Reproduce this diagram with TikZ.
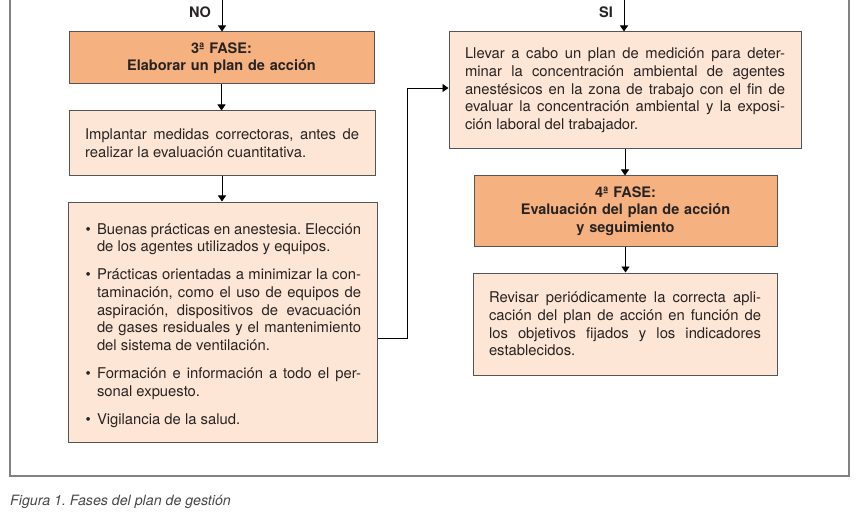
\documentclass[tikz,border=0pt]{standalone}
\usepackage{fontspec}
\setmainfont{TeX Gyre Heros}
\usetikzlibrary{arrows.meta}
\definecolor{phasefill}{RGB}{246,177,128}
\definecolor{peachfill}{RGB}{253,230,213}
\definecolor{edgecol}{RGB}{85,85,85}
\definecolor{framecol}{RGB}{130,130,130}
\definecolor{inkcol}{RGB}{40,35,35}
\newcommand\jsetup{\frenchspacing\tolerance=10000\hbadness=10000\hyphenpenalty=10000\relax}
\newcommand\bitem{\par\noindent\hangindent=13pt\hangafter=1\makebox[13pt][l]{\hspace{1.5pt}\textbullet}}
\begin{document}
\begin{tikzpicture}[x=1pt,y=-1pt,
  base/.style={draw=edgecol,line width=1pt,inner xsep=16pt,inner ysep=0pt,text=inkcol},
  phasebox/.style={base,fill=phasefill,align=center,font=\bfseries\fontsize{14.5}{17.4}\selectfont},
  textbox/.style={base,fill=peachfill,align=justify,font=\fontsize{14.8}{17.7}\selectfont},
  arr/.style={line width=0.9pt,-{Triangle[width=8pt,length=6pt]}},
  lbl/.style={font=\bfseries\fontsize{14.5}{17}\selectfont,inner sep=0pt,text=inkcol}]
\useasboundingbox (0,0) rectangle (856,513);
% outer frame
\draw[framecol,line width=1.5pt] (10,-3) -- (10,476) -- (849,476) -- (849,-3);
% left column
\node[phasebox,text width=273pt,minimum height=52pt] (b1) at (221.5,58) {3ª FASE:\\Elaborar un plan de acción};
\node[textbox,text width=274pt,minimum height=65pt] (b2) at (222,143.5) {\jsetup Implantar medidas correctoras, antes de\linebreak realizar la evaluación cuantitativa.};
\node[textbox,text width=277pt,minimum height=240pt] (b3) at (222.5,322) {\jsetup
\bitem Buenas prácticas en anestesia. Elección\linebreak de los agentes utilizados y equipos.
\par\vspace{10.3pt}
\bitem Prácticas orientadas a minimizar la con-\linebreak taminación, como el uso de equipos de\linebreak aspiración, dispositivos de evacuación\linebreak de gases residuales y el mantenimiento\linebreak del sistema de ventilación.
\par\vspace{10.3pt}
\bitem Formación e información a todo el per-\linebreak sonal expuesto.
\par\vspace{10.3pt}
\bitem Vigilancia de la salud.\par};
% right column
\node[textbox,text width=320pt,minimum height=117pt] (r1) at (625,90.5) {\jsetup Llevar a cabo un plan de medición para deter-\linebreak minar la concentración ambiental de agentes\linebreak anestésicos en la zona de trabajo con el fin de\linebreak evaluar la concentración ambiental y la exposi-\linebreak ción laboral del trabajador.};
\node[phasebox,text width=271pt,minimum height=70pt] (r2) at (625.5,211) {4ª FASE:\\Evaluación del plan de acción\\y seguimiento};
\node[textbox,text width=272pt,minimum height=102pt] (r3) at (625,324) {\jsetup Revisar periódicamente la correcta apli-\linebreak cación del plan de acción en función de\linebreak los objetivos fijados y los indicadores\linebreak establecidos.};
% labels
\node[lbl] (no) at (200,12) {NO};
\node[lbl] (si) at (606,12) {SI};
% arrows
\coordinate (notop) at (222,-2);
\coordinate (sitop) at (624,-2);
\draw[arr] (notop) -- (notop |- b1.north);
\draw[arr] (sitop) -- (sitop |- r1.north);
\draw[arr] (b1.south) -- (b1.south |- b2.north);
\draw[arr] (b2.south) -- (b2.south |- b3.north);
\draw[arr] (r1.south) -- (r1.south |- r2.north);
\draw[arr] (r2.south) -- (r2.south |- r3.north);
\coordinate (j1) at (407,338);
\coordinate (j2) at (407,88);
\draw[arr] (b3.east |- j1) -- (j1) -- (j2) -- (r1.west |- j2);
% caption
\node[anchor=base west,font=\itshape\fontsize{14.2}{16}\selectfont\frenchspacing,text=black!72,inner sep=0pt] (cap) at (10,505) {Figura 1. Fases del plan de gestión};
\end{tikzpicture}
\end{document}
